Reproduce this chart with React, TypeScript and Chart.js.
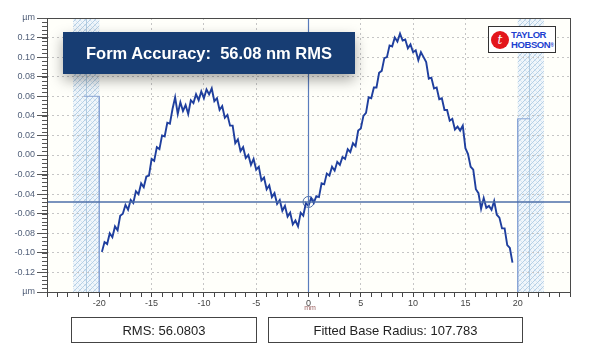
import React, { useEffect, useRef } from "react";
import { Chart, registerables } from "chart.js";

Chart.register(...registerables);

// Profile position (mm) and form height (µm)
const positionsMm = [
  -19.75, -19.5, -19.25, -19.0, -18.75, -18.5, -18.25, -18.0, -17.75, -17.5, -17.25, -17.0,
  -16.75, -16.5, -16.25, -16.0, -15.75, -15.5, -15.25, -15.0, -14.75, -14.5, -14.25, -14.0,
  -13.75, -13.5, -13.25, -13.0, -12.75, -12.5, -12.25, -12.0, -11.75, -11.5, -11.25, -11.0,
  -10.75, -10.5, -10.25, -10.0, -9.75, -9.5, -9.25, -9.0, -8.75, -8.5, -8.25, -8.0,
  -7.75, -7.5, -7.25, -7.0, -6.75, -6.5, -6.25, -6.0, -5.75, -5.5, -5.25, -5.0,
  -4.75, -4.5, -4.25, -4.0, -3.75, -3.5, -3.25, -3.0, -2.75, -2.5, -2.25, -2.0,
  -1.75, -1.5, -1.25, -1.0, -0.75, -0.5, -0.25, 0.0, 0.25, 0.5, 0.75, 1.0,
  1.25, 1.5, 1.75, 2.0, 2.25, 2.5, 2.75, 3.0, 3.25, 3.5, 3.75, 4.0,
  4.25, 4.5, 4.75, 5.0, 5.25, 5.5, 5.75, 6.0, 6.25, 6.5, 6.75, 7.0,
  7.25, 7.5, 7.75, 8.0, 8.25, 8.5, 8.75, 9.0, 9.25, 9.5, 9.75, 10.0,
  10.25, 10.5, 10.75, 11.0, 11.25, 11.5, 11.75, 12.0, 12.25, 12.5, 12.75, 13.0,
  13.25, 13.5, 13.75, 14.0, 14.25, 14.5, 14.75, 15.0, 15.25, 15.5, 15.75, 16.0,
  16.25, 16.5, 16.75, 17.0, 17.25, 17.5, 17.75, 18.0, 18.25, 18.5, 18.75, 19.0,
  19.25, 19.5,
];

const heightsUm = [
  -0.099, -0.089, -0.091, -0.080, -0.084, -0.073, -0.077, -0.062, -0.060, -0.051, -0.056, -0.046,
  -0.049, -0.037, -0.040, -0.029, -0.033, -0.022, -0.021, -0.004, -0.006, 0.008, 0.006, 0.020,
  0.019, 0.033, 0.032, 0.047, 0.059, 0.042, 0.054, 0.045, 0.051, 0.042, 0.056, 0.053,
  0.062, 0.056, 0.065, 0.058, 0.067, 0.062, 0.068, 0.055, 0.058, 0.046, 0.050, 0.038,
  0.041, 0.030, 0.030, 0.012, 0.016, 0.004, 0.008, -0.003, 0.000, -0.010, -0.004, -0.015,
  -0.012, -0.026, -0.023, -0.035, -0.031, -0.043, -0.039, -0.050, -0.046, -0.057, -0.052, -0.063,
  -0.059, -0.071, -0.067, -0.073, -0.059, -0.062, -0.049, -0.052, -0.044, -0.049, -0.042, -0.043,
  -0.029, -0.030, -0.019, -0.021, -0.012, -0.016, -0.007, -0.010, -0.002, -0.004, 0.006, 0.003,
  0.012, 0.009, 0.025, 0.027, 0.040, 0.043, 0.059, 0.058, 0.069, 0.069, 0.084, 0.086,
  0.099, 0.100, 0.112, 0.111, 0.120, 0.116, 0.124, 0.117, 0.118, 0.109, 0.113, 0.105,
  0.107, 0.097, 0.105, 0.100, 0.095, 0.078, 0.079, 0.068, 0.069, 0.057, 0.058, 0.046,
  0.046, 0.035, 0.037, 0.026, 0.029, 0.025, 0.030, 0.007, 0.001, -0.012, -0.015, -0.035,
  -0.039, -0.055, -0.044, -0.054, -0.052, -0.056, -0.047, -0.061, -0.064, -0.075, -0.075, -0.092,
  -0.095, -0.110,
];

const referenceLevelUm = -0.048;
const xRangeMm = [-25, 25];
const yRangeUm = [-0.14, 0.14];
const xLabelValuesMm = [-20, -15, -10, -5, 0, 5, 10, 15, 20];
const excludedZonesMm = [
  [-22.5, -20],
  [20, 22.5],
];
const zoneDividersMm = [-21.25, 21.1];
const leftMarker = { fromMm: -21.5, toMm: -20, levelUm: 0.06 };
const rightMarker = { fromMm: 21.2, toMm: 20, levelUm: 0.037 };

const titleText = "Form Accuracy:  56.08 nm RMS";
const rmsText = "RMS: 56.0803";
const radiusText = "Fitted Base Radius: 107.783";

const SANS = '"Liberation Sans", Arial, Helvetica, sans-serif';
const GRID = "#c6c6c6";

function makeHatch(ctx: CanvasRenderingContext2D) {
  const c = document.createElement("canvas");
  c.width = 5;
  c.height = 5;
  const g = c.getContext("2d")!;
  g.fillStyle = "#f0f6fb";
  g.fillRect(0, 0, 5, 5);
  g.strokeStyle = "rgba(165,198,224,0.8)";
  g.lineWidth = 1;
  g.beginPath();
  g.moveTo(0, 5);
  g.lineTo(5, 0);
  g.moveTo(-2.5, 2.5);
  g.lineTo(2.5, -2.5);
  g.moveTo(2.5, 7.5);
  g.lineTo(7.5, 2.5);
  g.stroke();
  g.strokeStyle = "rgba(185,210,230,0.45)";
  g.beginPath();
  g.moveTo(0, 0);
  g.lineTo(5, 5);
  g.stroke();
  return ctx.createPattern(c, "repeat");
}

const backgroundPlugin = {
  id: "bgHatch",
  beforeDraw(chart: any) {
    const { ctx, chartArea } = chart;
    const xs = chart.scales.x;
    ctx.save();
    ctx.fillStyle = "#fffffa";
    ctx.fillRect(chartArea.left, chartArea.top, chartArea.right - chartArea.left, chartArea.bottom - chartArea.top);
    const pat = makeHatch(ctx);
    excludedZonesMm.forEach(([a, b]) => {
      const x1 = xs.getPixelForValue(a);
      const x2 = xs.getPixelForValue(b);
      ctx.fillStyle = pat || "#e6f0f8";
      ctx.fillRect(x1, chartArea.top, x2 - x1, chartArea.bottom - chartArea.top);
    });
    ctx.strokeStyle = "rgba(165,195,220,0.8)";
    ctx.lineWidth = 1;
    zoneDividersMm.forEach((v) => {
      const x = Math.round(xs.getPixelForValue(v)) + 0.5;
      ctx.beginPath();
      ctx.moveTo(x, chartArea.top);
      ctx.lineTo(x, chartArea.bottom);
      ctx.stroke();
    });
    ctx.restore();
  },
  afterDraw(chart: any) {
    const { ctx, chartArea } = chart;
    const ys = chart.scales.y;
    ctx.save();
    ctx.strokeStyle = "#555";
    ctx.lineWidth = 1;
    // minor ticks on the height axis
    for (let i = -35; i <= 35; i++) {
      const y = Math.round(ys.getPixelForValue(i * 0.004)) + 0.5;
      ctx.beginPath();
      ctx.moveTo(chartArea.left - 5, y);
      ctx.lineTo(chartArea.left, y);
      ctx.stroke();
    }
    // frame
    ctx.strokeStyle = "#4a4a4a";
    ctx.strokeRect(
      Math.round(chartArea.left) + 0.5,
      Math.round(chartArea.top) + 0.5,
      Math.round(chartArea.right - chartArea.left),
      Math.round(chartArea.bottom - chartArea.top)
    );
    ctx.restore();
  },
};

export default function App() {
  const canvasRef = useRef<HTMLCanvasElement | null>(null);

  useEffect(() => {
    const canvas = canvasRef.current;
    if (!canvas) return;
    const profile = positionsMm.map((x, i) => ({ x, y: heightsUm[i] }));
    const chart = new Chart(canvas, {
      type: "scatter",
      data: {
        datasets: [
          {
            data: [
              { x: xRangeMm[0], y: referenceLevelUm },
              { x: xRangeMm[1], y: referenceLevelUm },
            ],
            showLine: true,
            borderColor: "#4e6fa8",
            borderWidth: 1.5,
            pointRadius: 0,
          },
          {
            data: [
              { x: 0, y: yRangeUm[0] },
              { x: 0, y: yRangeUm[1] },
            ],
            showLine: true,
            borderColor: "#5a7cbd",
            borderWidth: 1.2,
            pointRadius: 0,
          },
          {
            data: [
              { x: leftMarker.fromMm, y: leftMarker.levelUm },
              { x: leftMarker.toMm, y: leftMarker.levelUm },
              { x: leftMarker.toMm, y: yRangeUm[0] },
            ],
            showLine: true,
            borderColor: "#8aa6d6",
            borderWidth: 1,
            pointRadius: 0,
          },
          {
            data: [
              { x: rightMarker.fromMm, y: rightMarker.levelUm },
              { x: rightMarker.toMm, y: rightMarker.levelUm },
              { x: rightMarker.toMm, y: yRangeUm[0] },
            ],
            showLine: true,
            borderColor: "#8aa6d6",
            borderWidth: 1,
            pointRadius: 0,
          },
          {
            data: profile,
            showLine: true,
            borderColor: "#1f3f9e",
            borderWidth: 1.9,
            pointRadius: 0,
            tension: 0,
          },
          {
            data: [{ x: 0, y: referenceLevelUm }],
            showLine: false,
            pointRadius: 5.5,
            pointStyle: "circle",
            pointBackgroundColor: "rgba(0,0,0,0)",
            pointBorderColor: "#4e6fa8",
            pointBorderWidth: 1,
          },
        ],
      },
      options: {
        responsive: false,
        animation: false,
        devicePixelRatio: 1,
        layout: { padding: { top: 18, right: 26, bottom: 38, left: 0 } },
        plugins: { legend: { display: false }, tooltip: { enabled: false } },
        scales: {
          x: {
            type: "linear",
            min: xRangeMm[0],
            max: xRangeMm[1],
            afterFit: (s: any) => {
              s.height = 22;
            },
            border: { display: false, dash: [2, 3] },
            grid: {
              color: (c: any) => {
                const v = Math.round(c.tick.value);
                return v % 5 === 0 && Math.abs(v) < 20 && v !== 0 ? GRID : "rgba(0,0,0,0)";
              },
              tickColor: "#444",
              tickLength: 5,
            },
            ticks: {
              stepSize: 1,
              autoSkip: false,
              maxRotation: 0,
              padding: 1,
              color: "#444",
              font: { family: SANS, size: 9 },
              callback: (v: any) => {
                const n = Math.round(Number(v));
                return xLabelValuesMm.includes(n) ? String(n) : "";
              },
            },
          },
          y: {
            min: yRangeUm[0],
            max: yRangeUm[1],
            afterFit: (s: any) => {
              s.width = 47;
            },
            border: { display: false, dash: [2, 3] },
            grid: {
              color: (c: any) =>
                Math.abs(Math.round(c.tick.value * 100)) >= 14 ? "rgba(0,0,0,0)" : GRID,
              tickColor: "#555",
              tickLength: 10,
            },
            ticks: {
              stepSize: 0.02,
              padding: 2,
              color: "#52607a",
              font: { family: SANS, size: 9 },
              callback: (v: any) => {
                const n = Math.round(Number(v) * 100);
                if (Math.abs(n) === 14) return "µm";
                return (n / 100).toFixed(2);
              },
            },
          },
        },
      },
      plugins: [backgroundPlugin],
    } as any);
    return () => chart.destroy();
  }, []);

  return (
    <div
      style={{
        position: "absolute",
        left: 0,
        top: 0,
        width: 596,
        height: 352,
        background: "#ffffff",
        fontFamily: SANS,
        overflow: "hidden",
      }}
    >
      <canvas ref={canvasRef} width={596} height={352} style={{ position: "absolute", left: 0, top: 0 }} />
      <div
        style={{
          position: "absolute",
          left: 63,
          top: 32,
          width: 292,
          height: 42,
          background: "#173d73",
          boxShadow: "0 6px 14px rgba(0,0,0,0.35)",
          color: "#fff",
          fontWeight: "bold",
          fontSize: 16.5,
          display: "flex",
          alignItems: "center",
          justifyContent: "center",
          whiteSpace: "pre",
        }}
      >
        {titleText}
      </div>
      <div
        style={{
          position: "absolute",
          left: 488,
          top: 26,
          width: 66,
          height: 25,
          background: "#fff",
          border: "1px solid #333",
          display: "flex",
          alignItems: "center",
          overflow: "hidden",
        }}
      >
        <div
          style={{
            marginLeft: 2,
            width: 18,
            height: 18,
            flex: "none",
            borderRadius: "50%",
            background: "#e3151b",
            color: "#fff",
            fontFamily: '"DejaVu Serif", serif',
            fontStyle: "italic",
            fontSize: 12,
            lineHeight: "18px",
            textAlign: "center",
          }}
        >
          t
        </div>
        <div
          style={{
            marginLeft: 2,
            color: "#1d3fd0",
            fontWeight: "bold",
            fontSize: 9.5,
            lineHeight: "10px",
            letterSpacing: -0.4,
            whiteSpace: "nowrap",
          }}
        >
          TAYLOR
          <br />
          HOBSON<span style={{ fontSize: 5, verticalAlign: "top" }}>®</span>
        </div>
      </div>
      <div
        style={{
          position: "absolute",
          left: 302,
          top: 304,
          width: 16,
          textAlign: "center",
          fontSize: 7,
          color: "#9a6060",
        }}
      >
        mm
      </div>
      <div
        style={{
          position: "absolute",
          left: 71,
          top: 317,
          width: 184,
          height: 24,
          border: "1px solid #444",
          display: "flex",
          alignItems: "center",
          justifyContent: "center",
          fontSize: 13,
          color: "#222",
        }}
      >
        {rmsText}
      </div>
      <div
        style={{
          position: "absolute",
          left: 268,
          top: 317,
          width: 253,
          height: 24,
          border: "1px solid #444",
          display: "flex",
          alignItems: "center",
          justifyContent: "center",
          fontSize: 13,
          color: "#222",
        }}
      >
        {radiusText}
      </div>
    </div>
  );
}
